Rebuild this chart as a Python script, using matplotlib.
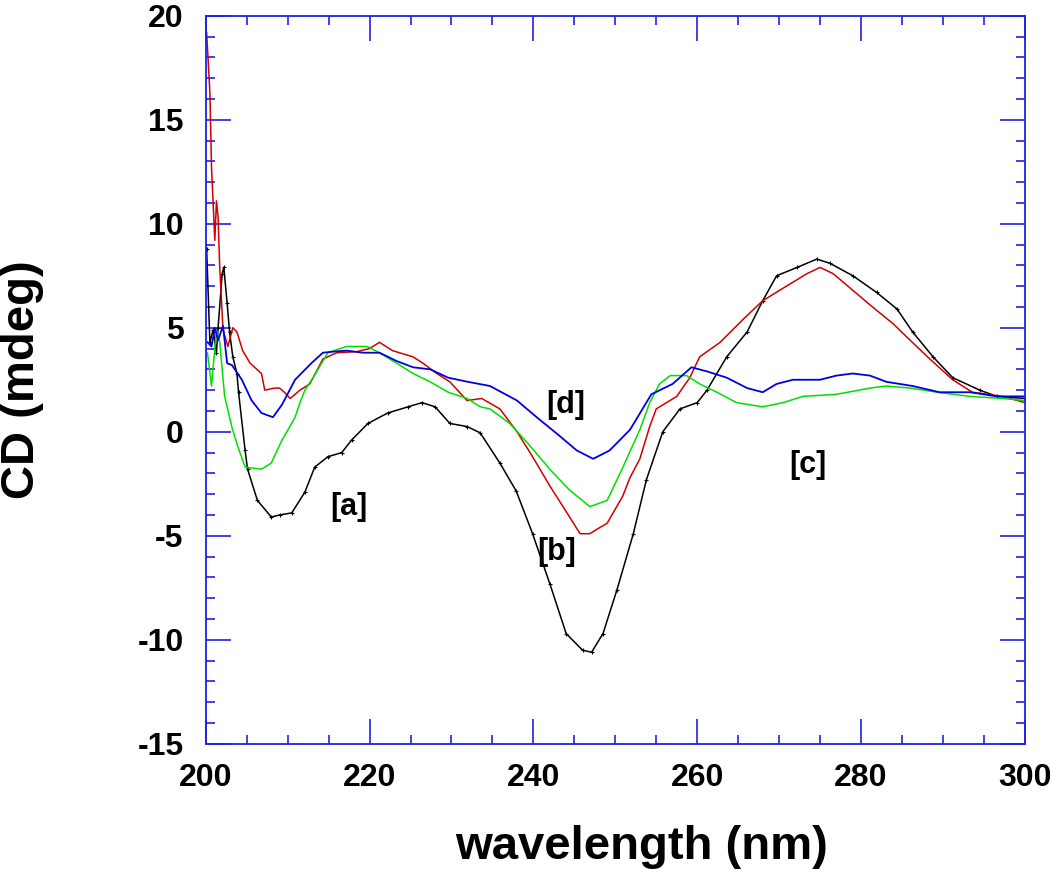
import matplotlib
matplotlib.use("Agg")
import matplotlib.pyplot as plt

plt.rcParams['font.family'] = ['Liberation Sans', 'DejaVu Sans']
plt.rcParams['font.weight'] = 'bold'
plt.rcParams['axes.unicode_minus'] = False

# [a] black
wl_a = [200.1, 200.5, 200.9, 201.3, 201.5, 202.0, 202.2, 202.6, 202.9, 203.3, 203.8, 204.0,
        204.8, 205.1, 206.3, 208.0, 209.0, 210.5, 212.1, 213.3, 214.9, 216.6, 217.8, 219.8,
        222.2, 224.7, 226.4, 228.0, 229.8, 231.9, 233.5, 235.9, 237.9, 239.9, 242.0, 244.0,
        246.0, 247.1, 248.5, 250.2, 252.2, 253.8, 255.8, 257.9, 260.0, 261.2, 263.6, 266.1,
        268.0, 269.7, 272.2, 274.6, 276.2, 279.0, 281.9, 284.4, 286.3, 288.8, 291.2, 294.5,
        296.6, 300.0]
cd_a = [8.8, 4.3, 4.9, 3.8, 5.0, 7.6, 7.9, 6.2, 4.8, 3.6, 2.8, 1.9,
        -0.9, -1.8, -3.3, -4.1, -4.0, -3.9, -2.9, -1.7, -1.2, -1.0, -0.4, 0.4,
        0.9, 1.2, 1.4, 1.2, 0.4, 0.25, -0.05, -1.5, -2.85, -4.9, -7.3, -9.7,
        -10.5, -10.6, -9.7, -7.6, -4.9, -2.3, 0.0, 1.1, 1.4, 2.0, 3.6, 4.8,
        6.3, 7.5, 7.9, 8.3, 8.1, 7.5, 6.7, 5.9, 4.8, 3.6, 2.6, 2.0,
        1.7, 1.6]

# [b] red
wl_b = [200.1, 200.5, 200.7, 201.1, 201.3, 201.5, 201.7, 202.1, 202.7, 203.3, 203.8, 204.5,
        205.4, 206.8, 207.2, 208.4, 209.0, 209.6, 210.3, 211.5, 212.7, 214.3, 216.0, 218.4,
        220.0, 221.2, 222.8, 225.3, 226.5, 228.2, 229.8, 231.9, 233.7, 235.9, 238.0, 239.9,
        242.0, 244.1, 245.7, 246.9, 247.7, 249.0, 250.9, 251.8, 253.0, 254.2, 255.0, 257.5,
        259.1, 260.3, 262.8, 265.6, 268.0, 270.9, 273.4, 275.0, 276.6, 279.0, 281.4, 283.9,
        286.0, 288.4, 291.2, 293.6, 297.3, 300.0]
cd_b = [19.2, 16.3, 12.7, 9.2, 11.1, 10.3, 7.9, 4.9, 4.1, 5.0, 4.8, 3.9,
        3.3, 2.8, 2.0, 2.1, 2.1, 1.9, 1.6, 2.0, 2.3, 3.5, 3.8, 3.85,
        4.0, 4.3, 3.9, 3.6, 3.3, 2.8, 2.4, 1.5, 1.6, 1.1, 0.0, -1.2,
        -2.6, -3.9, -4.9, -4.9, -4.7, -4.4, -3.1, -2.2, -1.3, 0.25, 1.1, 1.7,
        2.6, 3.6, 4.3, 5.4, 6.3, 7.0, 7.6, 7.9, 7.6, 6.8, 6.0, 5.2,
        4.4, 3.5, 2.5, 1.9, 1.7, 1.4]

# [c] green
wl_c = [200.2, 200.7, 201.3, 201.7, 202.3, 203.2, 203.9, 204.8, 206.8, 208.0, 209.3, 209.9,
        210.9, 211.5, 212.1, 213.1, 214.9, 217.2, 219.7, 221.2, 223.3, 225.3, 227.4, 229.6,
        231.9, 233.5, 234.7, 237.1, 239.2, 242.0, 244.4, 246.9, 249.0, 250.7, 253.0, 254.2,
        255.4, 256.7, 258.7, 260.3, 262.4, 264.8, 268.0, 270.5, 272.9, 277.0, 281.1, 283.1,
        286.0, 289.3, 293.3, 297.3, 300.0]
cd_c = [3.8, 2.2, 4.9, 4.3, 1.7, 0.2, -0.7, -1.7, -1.8, -1.5, -0.4, 0.0,
        0.7, 1.4, 2.0, 2.6, 3.8, 4.1, 4.1, 3.8, 3.3, 2.8, 2.4, 1.9,
        1.6, 1.2, 1.1, 0.4, -0.5, -1.8, -2.8, -3.6, -3.3, -1.9, 0.1, 1.4,
        2.3, 2.7, 2.7, 2.3, 1.9, 1.4, 1.2, 1.4, 1.7, 1.8, 2.1, 2.2,
        2.1, 1.9, 1.7, 1.6, 1.5]

# [d] blue
wl_d = [200.2, 200.7, 201.1, 201.5, 202.1, 202.6, 203.2, 204.4, 205.6, 206.8, 208.2, 209.3,
        210.9, 212.9, 214.3, 215.5, 217.2, 219.2, 221.2, 223.3, 225.3, 227.4, 229.6, 232.0,
        234.7, 238.0, 240.4, 243.2, 245.3, 247.3, 249.3, 251.8, 254.4, 257.0, 259.3, 261.2,
        263.6, 266.1, 268.0, 269.7, 271.7, 275.0, 277.0, 279.0, 281.1, 283.1, 286.3, 289.6,
        293.3, 296.6, 300.0]
cd_d = [4.3, 4.1, 5.0, 4.4, 5.1, 3.3, 3.2, 2.5, 1.5, 0.9, 0.7, 1.3,
        2.5, 3.3, 3.8, 3.85, 3.9, 3.8, 3.8, 3.4, 3.1, 3.0, 2.6, 2.4,
        2.2, 1.5, 0.7, -0.2, -0.9, -1.3, -0.9, 0.1, 1.8, 2.3, 3.1, 2.9,
        2.6, 2.1, 1.9, 2.3, 2.5, 2.5, 2.7, 2.8, 2.7, 2.4, 2.2, 1.9,
        1.9, 1.7, 1.7]

labels = ['[a]', '[b]', '[c]', '[d]']
label_x = [217.5, 242.9, 273.5, 244.0]
label_y = [-3.6, -5.8, -1.6, 1.3]

axis_blue = '#2020e8'

fig = plt.figure(figsize=(10.5, 8.73), dpi=100)
ax = fig.add_axes([0.196, 0.148, 0.780, 0.834])

ax.plot(wl_a, cd_a, color='black', lw=1.1, marker='+', ms=3, mew=0.8)
ax.plot(wl_b, cd_b, color='#d00000', lw=1.1)
ax.plot(wl_c, cd_c, color='#00e000', lw=1.1)
ax.plot(wl_d, cd_d, color='#0000e0', lw=1.3)

for t, x, y in zip(labels, label_x, label_y):
    ax.text(x, y, t, fontsize=22, fontweight='bold', ha='center', va='center')

ax.set_xlim(200, 300)
ax.set_ylim(-15, 20)
ax.set_xticks(range(200, 301, 20))
ax.set_xticks(range(200, 301, 5), minor=True)
ax.set_yticks(range(-15, 21, 5))
ax.set_yticks(range(-15, 21, 1), minor=True)

for s in ax.spines.values():
    s.set_color(axis_blue)
    s.set_linewidth(1.3)
ax.tick_params(which='both', direction='in', top=True, right=True, color=axis_blue, width=1.2)
ax.tick_params(which='major', length=18, labelsize=23)
ax.tick_params(which='minor', length=6.5)
ax.tick_params(axis='y', which='major', pad=16)
ax.tick_params(axis='x', which='major', pad=14)
for lab in ax.get_xticklabels() + ax.get_yticklabels():
    lab.set_fontweight('bold')

ax.set_xlabel('wavelength (nm)', fontsize=34, fontweight='bold')
ax.set_ylabel('CD (mdeg)', fontsize=34, fontweight='bold')
ax.xaxis.set_label_coords(0.532, -0.112)
ax.yaxis.set_label_coords(-0.197, 0.5)

fig.savefig('out.png', dpi=100)
